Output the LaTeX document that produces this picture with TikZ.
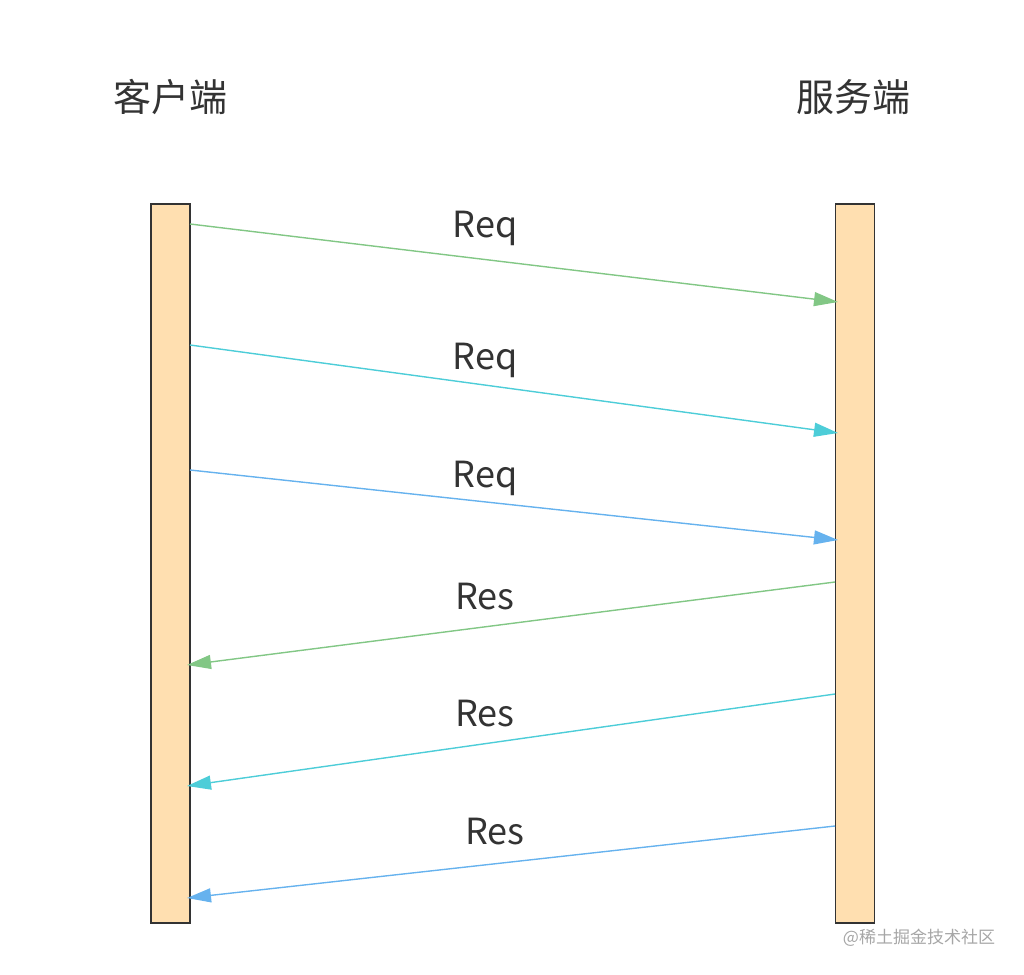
\documentclass[tikz,border=0pt]{standalone}
\usepackage{fontspec}
\setmainfont{Noto Sans CJK SC}
\usetikzlibrary{arrows.meta}
\definecolor{barfill}{HTML}{FFDFB0}
\definecolor{txt}{HTML}{333333}
\definecolor{cg}{HTML}{82C785}
\definecolor{cc}{HTML}{4DCDD8}
\definecolor{cb}{HTML}{66B2EE}
\tikzset{
  bar/.style={draw=txt,fill=barfill,line width=1.3pt,minimum width=39pt,minimum height=719pt,inner sep=0pt},
  msg/.style={line width=1.4pt,-{Triangle[length=24pt,width=14pt]}},
  lbl/.style={text=txt,font=\fontsize{36}{40}\selectfont,inner sep=0pt},
  title/.style={text=txt,font=\fontsize{38}{44}\selectfont,inner sep=0pt}
}
\begin{document}
\begin{tikzpicture}[x=1pt,y=-1pt]
\useasboundingbox (0,0) rectangle (1024,974);
\node[bar] (L) at (170.5,563.5) {};
\node[bar] (R) at (855,563.5) {};
\node[title] (tl) at (170,97) {客户端};
\node[title] (tr) at (853,97) {服务端};
\coordinate (a1) at (190,224); \coordinate (b1) at (838,302);
\coordinate (a2) at (190,345); \coordinate (b2) at (838,433);
\coordinate (a3) at (190,470); \coordinate (b3) at (838,540);
\coordinate (a4) at (835,582); \coordinate (b4) at (187,665);
\coordinate (a5) at (835,694); \coordinate (b5) at (187,786);
\coordinate (a6) at (835,826); \coordinate (b6) at (187,898);
\draw[msg,draw=cg,fill=cg] (a1) -- (b1);
\draw[msg,draw=cc,fill=cc] (a2) -- (b2);
\draw[msg,draw=cb,fill=cb] (a3) -- (b3);
\draw[msg,draw=cg,fill=cg] (a4) -- (b4);
\draw[msg,draw=cc,fill=cc] (a5) -- (b5);
\draw[msg,draw=cb,fill=cb] (a6) -- (b6);
\node[lbl] (l1) at (485,228) {Req};
\node[lbl] (l2) at (485,360) {Req};
\node[lbl] (l3) at (485,478) {Req};
\node[lbl] (l4) at (485,597) {Res};
\node[lbl] (l5) at (485,714) {Res};
\node[lbl] (l6) at (495,832) {Res};
\node[text=gray!70,font=\fontsize{17}{20}\selectfont,inner sep=0pt] (wm) at (919,938) {@稀土掘金技术社区};
\end{tikzpicture}
\end{document}
